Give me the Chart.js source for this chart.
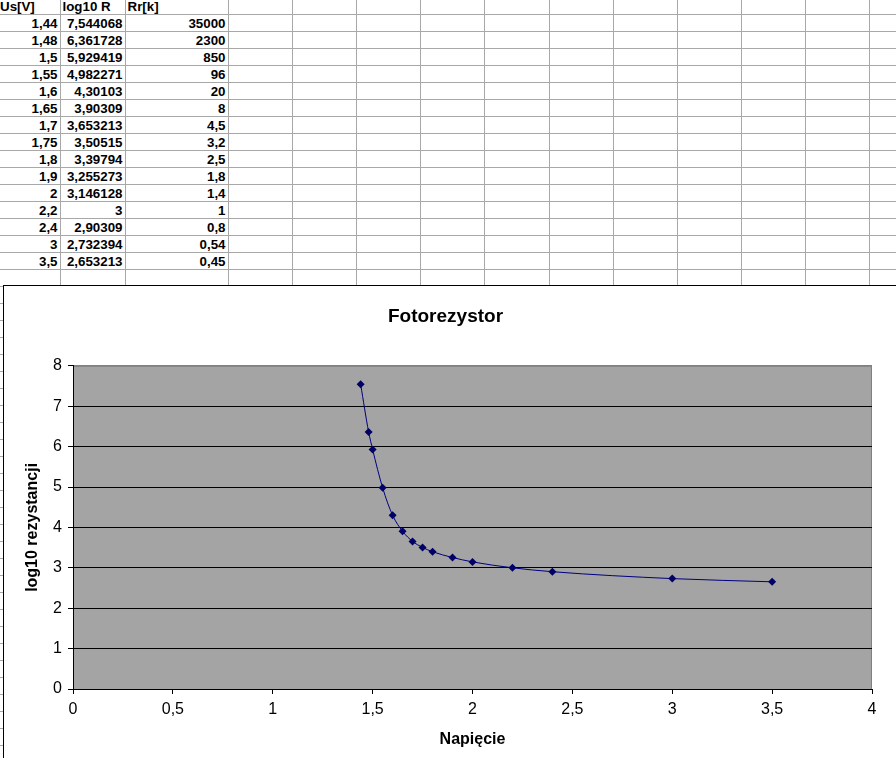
<!DOCTYPE html>
<html>
<head>
<meta charset="utf-8">
<script src="https://cdn.jsdelivr.net/npm/chart.js@4/dist/chart.umd.min.js"></script>
<style>
  html, body { margin: 0; padding: 0; background: #fff; overflow: hidden; width: 896px; height: 758px; }
  #sheet { position: absolute; left: -2px; top: -2px; border-collapse: collapse; table-layout: fixed;
           font: bold 13.33px Arial, "Liberation Sans", sans-serif; color: #000; }
  #sheet td { height: 16px; padding: 0 2px; border-right: 1px solid #a8a8a8; border-bottom: 1px solid #a8a8a8;
              white-space: nowrap; overflow: hidden; text-align: right; vertical-align: bottom; line-height: 15px; }
  #sheet td.l { text-align: left; }
  #box { position: absolute; left: 3px; top: 285px; width: 900px; height: 480px; background: #fff;
         border-left: 1px solid #000; border-top: 1px solid #000; }
  #wrap { position: absolute; left: 0; top: 0; width: 892px; height: 472px; }
</style>
</head>
<body>
<table id="sheet"></table>
<div id="box"><div id="wrap"><canvas id="chart"></canvas></div></div>
<script>
// spreadsheet columns
const headers = ['Us[V]', 'log10 R', 'Rr[k]'];
// Us[V]
const voltage = [1.44, 1.48, 1.5, 1.55, 1.6, 1.65, 1.7, 1.75, 1.8, 1.9, 2, 2.2, 2.4, 3, 3.5];
// log10 R
const logR = [7.544068, 6.361728, 5.929419, 4.982271, 4.30103, 3.90309, 3.653213, 3.50515, 3.39794,
              3.255273, 3.146128, 3, 2.90309, 2.732394, 2.653213];
// Rr[k]
const resistance = [35000, 2300, 850, 96, 20, 8, 4.5, 3.2, 2.5, 1.8, 1.4, 1, 0.8, 0.54, 0.45];

const xTicks = [0, 0.5, 1, 1.5, 2, 2.5, 3, 3.5, 4];
const yTicks = [0, 1, 2, 3, 4, 5, 6, 7, 8];

const fmt = v => String(v).replace('.', ',');

// build the sheet grid
function buildSheet() {
  const table = document.getElementById('sheet');
  const widths = [62, 65, 103, 64, 64, 64, 64, 65, 64, 64, 64, 64, 64, 64];
  const cg = document.createElement('colgroup');
  widths.forEach(w => { const c = document.createElement('col'); c.style.width = w + 'px'; cg.appendChild(c); });
  table.appendChild(cg);
  table.style.width = widths.reduce((a, b) => a + b, 0) + 'px';
  for (let r = 0; r < 46; r++) {
    const tr = document.createElement('tr');
    widths.forEach((w, i) => {
      const td = document.createElement('td');
      if (r === 0 && i < 3) { td.textContent = headers[i]; td.className = 'l'; }
      else if (r > 0 && r <= voltage.length && i < 3) {
        td.textContent = fmt([voltage, logR, resistance][i][r - 1]);
      }
      tr.appendChild(td);
    });
    table.appendChild(tr);
  }
}
buildSheet();

Chart.defaults.font.family = 'Arial, "Liberation Sans", sans-serif';
Chart.defaults.color = '#000';

const plotBg = {
  id: 'plotBg',
  beforeDraw(chart) {
    const { ctx, chartArea: a } = chart;
    ctx.save();
    ctx.fillStyle = '#a4a4a4';
    ctx.fillRect(a.left, a.top, a.right - a.left, a.bottom - a.top);
    ctx.strokeStyle = '#808080';
    ctx.lineWidth = 1;
    ctx.beginPath();
    ctx.moveTo(a.left, a.top + 0.5);
    ctx.lineTo(a.right - 0.5, a.top + 0.5);
    ctx.lineTo(a.right - 0.5, a.bottom);
    ctx.stroke();
    ctx.restore();
  }
};

new Chart(document.getElementById('chart'), {
  type: 'scatter',
  data: {
    datasets: [{
      label: 'log10 R',
      data: voltage.map((v, i) => ({ x: v, y: logR[i] })),
      showLine: true,
      borderColor: '#000080',
      borderWidth: 1,
      cubicInterpolationMode: 'monotone',
      pointStyle: 'rectRot',
      pointRadius: 4,
      pointBackgroundColor: '#000066',
      pointBorderColor: '#000066',
      pointBorderWidth: 0
    }]
  },
  options: {
    responsive: true,
    maintainAspectRatio: false,
    animation: false,
    layout: { padding: { left: 15, right: 24, top: 0, bottom: 5 } },
    plugins: {
      legend: { display: false },
      tooltip: { enabled: false },
      title: {
        display: true,
        text: 'Fotorezystor',
        font: { size: 19, weight: 'bold' },
        padding: { top: 19, bottom: 38 }
      }
    },
    scales: {
      x: {
        type: 'linear',
        min: 0, max: 4,
        afterBuildTicks: s => { s.ticks = xTicks.map(v => ({ value: v })); },
        afterFit: s => { s.height = 64; },
        ticks: { font: { size: 16 }, padding: 6, callback: v => fmt(v), maxRotation: 0 },
        grid: { drawOnChartArea: false, drawTicks: true, tickLength: 5, color: '#000' },
        border: { display: true, color: '#000', width: 1 },
        title: { display: true, text: 'Napięcie', font: { size: 16, weight: 'bold' }, padding: { top: 4, bottom: 4 } }
      },
      y: {
        type: 'linear',
        min: 0, max: 8,
        afterBuildTicks: s => { s.ticks = yTicks.map(v => ({ value: v })); },
        afterFit: s => { s.width = 54; },
        ticks: { font: { size: 16 }, padding: 6, callback: v => fmt(v) },
        grid: {
          color: c => (c.tick && c.tick.value === 8) ? '#808080' : '#000',
          tickColor: '#000',
          tickLength: 5,
          lineWidth: 1
        },
        border: { display: true, color: '#000', width: 1 },
        title: { display: true, text: 'log10 rezystancji', font: { size: 16, weight: 'bold' }, padding: { top: 4, bottom: 4 } }
      }
    }
  },
  plugins: [plotBg]
});
</script>
</body>
</html>
